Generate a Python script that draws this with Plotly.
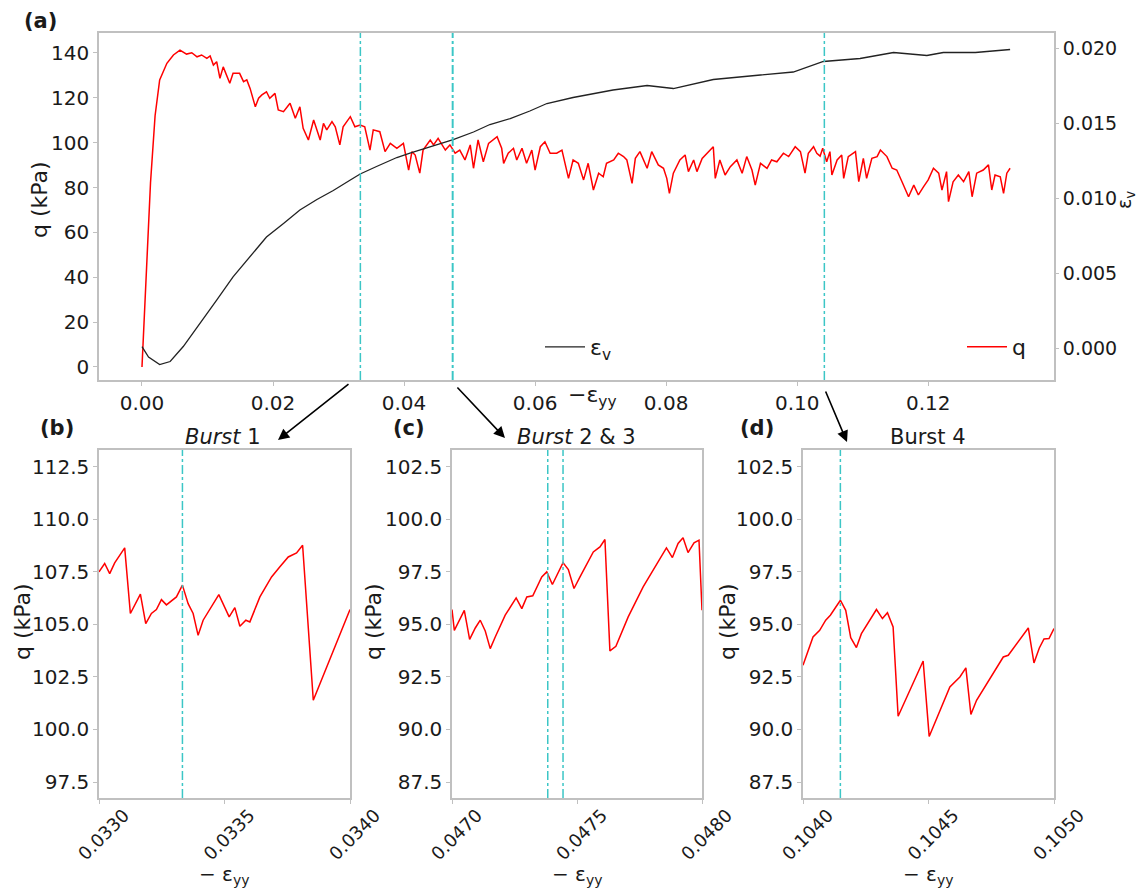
import plotly.graph_objects as go

# ---------------- data ----------------
# main panel (a): q vs -eps_yy
q_strain = [0.0000, 0.0007, 0.0013, 0.0020, 0.0027, 0.0038, 0.0048, 0.0058, 0.0068, 0.0076,
            0.0084, 0.0091, 0.0099, 0.0104, 0.0109, 0.0114, 0.0119, 0.0124, 0.0129, 0.0134,
            0.0139, 0.0149, 0.0155, 0.0160, 0.0165, 0.0173, 0.0178, 0.0183, 0.0190, 0.0195,
            0.0203, 0.0208, 0.0216, 0.0226, 0.0234, 0.0241, 0.0246, 0.0254, 0.0262, 0.0267,
            0.0272, 0.0277, 0.0282, 0.0290, 0.0295, 0.0302, 0.0307, 0.0318, 0.0325, 0.0333,
            0.0340, 0.0348, 0.0353, 0.0363, 0.0371, 0.0379, 0.0389, 0.0399, 0.0407, 0.0412,
            0.0417, 0.0424, 0.0429, 0.0440, 0.0445, 0.0452, 0.0463, 0.0470, 0.0478, 0.0485,
            0.0493, 0.0501, 0.0506, 0.0513, 0.0521, 0.0529, 0.0542, 0.0549, 0.0552, 0.0559,
            0.0567, 0.0572, 0.0580, 0.0587, 0.0595, 0.0600, 0.0608, 0.0615, 0.0623, 0.0633,
            0.0641, 0.0651, 0.0658, 0.0666, 0.0674, 0.0681, 0.0689, 0.0697, 0.0704, 0.0709,
            0.0720, 0.0727, 0.0735, 0.0740, 0.0748, 0.0753, 0.0760, 0.0771, 0.0778, 0.0788,
            0.0796, 0.0801, 0.0805, 0.0811, 0.0821, 0.0829, 0.0834, 0.0842, 0.0847, 0.0855,
            0.0865, 0.0872, 0.0875, 0.0882, 0.0890, 0.0898, 0.0908, 0.0916, 0.0923, 0.0931,
            0.0936, 0.0944, 0.0954, 0.0961, 0.0969, 0.0979, 0.0987, 0.0997, 0.1005, 0.1012,
            0.1017, 0.1025, 0.1030, 0.1035, 0.1039, 0.1045, 0.1050, 0.1053, 0.1061, 0.1068,
            0.1071, 0.1078, 0.1089, 0.1094, 0.1101, 0.1106, 0.1114, 0.1122, 0.1127, 0.1137,
            0.1145, 0.1152, 0.1160, 0.1170, 0.1178, 0.1185, 0.1193, 0.1200, 0.1208, 0.1216,
            0.1221, 0.1228, 0.1231, 0.1238, 0.1246, 0.1254, 0.1262, 0.1267, 0.1274, 0.1284,
            0.1292, 0.1297, 0.1302, 0.1310, 0.1315, 0.1320, 0.1325]
q_values = [0, 44.6, 82, 112, 128, 135.4, 139.1, 141.3, 139.5, 140.1,
            138.3, 139.1, 137.6, 138.7, 134.6, 136.1, 128.7, 133.8, 130.2, 126.5,
            130.9, 130.9, 127.2, 128, 124.2, 116, 119.8, 121.3, 122.7, 119.8,
            122, 114.6, 113.8, 117.6, 110.9, 116, 106.4, 101.2, 110.1, 105.7,
            101.2, 108.6, 105.7, 109.4, 107.1, 99, 107.1, 111.6, 107.1, 107.9,
            107.1, 96.7, 105.7, 104.9, 96, 99.7, 97.5, 99.7, 87.8, 96,
            94.5, 86.4, 96.7, 101.2, 99, 101.9, 96.7, 99, 95.3, 96.7,
            92.3, 99, 88.6, 101.2, 91.5, 99.7, 102.7, 97.5, 90.8, 95.3,
            97.5, 92.3, 97.5, 90.8, 96.7, 87.8, 98.2, 100.4, 95.3, 95.3,
            96.7, 84.1, 92.3, 90.8, 83.4, 90.8, 78.9, 86.4, 84.8, 90.8,
            92.3, 95.3, 93.8, 92.3, 81.9, 93, 96, 88.6, 96, 90.1,
            88.6, 84.1, 77.4, 86.4, 92.3, 94.5, 87.1, 92.3, 87.1, 93,
            96, 98.2, 84.1, 92.3, 85.6, 89.3, 92.3, 86.4, 93.8, 87.8,
            81.1, 90.8, 88.6, 92.3, 91.5, 95.3, 93.8, 98.2, 96, 86.4,
            95.3, 98.2, 95.3, 94, 97.5, 91.5, 96, 85.6, 92.3, 94.5,
            84.1, 93.8, 96, 82.6, 93, 84.1, 93, 93.8, 96.7, 93.8,
            88.6, 87.8, 82.6, 75.9, 81.1, 76.7, 80.4, 83.4, 88.6, 86.4,
            78.9, 87.1, 73.7, 82.6, 85.6, 82.6, 87.1, 75.9, 86.4, 87.8,
            90.1, 78.9, 85.6, 84.8, 77.4, 86.4, 88.6]

# main panel (a): volumetric strain eps_v
ev_strain = [0.0000, 0.0010, 0.0027, 0.0043, 0.0063, 0.0089, 0.0114, 0.0139, 0.0165, 0.0190,
             0.0216, 0.0241, 0.0267, 0.0292, 0.0318, 0.0333, 0.0358, 0.0389, 0.0409, 0.0445,
             0.0475, 0.0506, 0.0531, 0.0562, 0.0592, 0.0618, 0.0658, 0.0719, 0.0771, 0.0811,
             0.0872, 0.0944, 0.0994, 0.1040, 0.1096, 0.1147, 0.1198, 0.1223, 0.1272, 0.1325]
ev_values = [0.0001, -0.0006, -0.0011, -0.0009, 0.0001, 0.00165, 0.0032, 0.00475, 0.0061, 0.0074,
             0.0083, 0.0092, 0.0099, 0.0105, 0.0112, 0.0116, 0.0121, 0.0127, 0.0130, 0.0135,
             0.0139, 0.0144, 0.0149, 0.0153, 0.0158, 0.0163, 0.0167, 0.0172, 0.0175, 0.0173,
             0.0179, 0.0182, 0.0184, 0.0191, 0.0193, 0.0197, 0.0195, 0.0197, 0.0197, 0.0199]

# burst positions (-eps_yy)
bursts_b = [0.0333324]
bursts_c = [0.0473830, 0.0474441]
bursts_d = [0.1041489]

# panel (b): burst 1
b_strain = [0.0330000, 0.0330226, 0.0330426, 0.0330625, 0.0331024, 0.0331250, 0.0331649, 0.0331862,
            0.0332088, 0.0332287, 0.0332487, 0.0332686, 0.0333085, 0.0333324, 0.0333551, 0.0333750,
            0.0333949, 0.0334149, 0.0334774, 0.0335186, 0.0335412, 0.0335612, 0.0335851, 0.0336011,
            0.0336410, 0.0336875, 0.0337207, 0.0337540, 0.0337872, 0.0338112, 0.0338537, 0.0340000]
b_q = [107.5, 107.9, 107.42, 107.93, 108.64, 105.52, 106.44, 105.04,
       105.52, 105.71, 106.18, 105.93, 106.31, 106.87, 105.99, 105.52,
       104.48, 105.2, 106.42, 105.36, 105.80, 104.91, 105.2, 105.12,
       106.31, 107.26, 107.74, 108.21, 108.40, 108.77, 101.39, 105.71]

# panel (c): bursts 2 & 3
c_strain = [0.0470000, 0.0470093, 0.0470492, 0.0470705, 0.0470931, 0.0471130, 0.0471330, 0.0471529,
            0.0471729, 0.0472128, 0.0472566, 0.0472793, 0.0472992, 0.0473231, 0.0473590, 0.0473790,
            0.0474016, 0.0474441, 0.0474654, 0.0474880, 0.0475120, 0.0475652, 0.0475918, 0.0476117,
            0.0476316, 0.0476556, 0.0477048, 0.0477646, 0.0478577, 0.0478816, 0.0479043, 0.0479242,
            0.0479441, 0.0479681, 0.0479880, 0.0480000]
c_q = [95.71, 94.72, 95.67, 94.29, 94.83, 95.20, 94.69, 93.85,
       94.40, 95.44, 96.26, 95.75, 96.31, 96.36, 97.26, 97.5,
       96.90, 97.94, 97.61, 96.71, 97.26, 98.45, 98.69, 99.04,
       93.74, 93.96, 95.36, 96.79, 98.64, 98.18, 98.85, 99.12,
       98.42, 98.88, 99.01, 95.67]

# panel (d): burst 4
d_strain = [0.1040000, 0.1040399, 0.1040665, 0.1040904, 0.1041090, 0.1041489, 0.1041702, 0.1041902,
            0.1042128, 0.1042327, 0.1042926, 0.1043165, 0.1043364, 0.1043590, 0.1043790, 0.1044787,
            0.1045027, 0.1045851, 0.1046250, 0.1046489, 0.1046689, 0.1046915, 0.1047979, 0.1048178,
            0.1048976, 0.1049202, 0.1049415, 0.1049601, 0.1049801, 0.1050000]
d_q = [93.06, 94.40, 94.72, 95.20, 95.44, 96.15, 95.67, 94.37,
       93.90, 94.56, 95.71, 95.28, 95.56, 94.88, 90.63, 93.26,
       89.67, 92.02, 92.50, 92.93, 90.72, 91.39, 93.45, 93.53,
       94.83, 93.17, 93.88, 94.31, 94.33, 94.80]

main_xticks = [0.00, 0.02, 0.04, 0.06, 0.08, 0.10, 0.12]
main_yticks = [0, 20, 40, 60, 80, 100, 120, 140]
ev_ticks = [0.000, 0.005, 0.010, 0.015, 0.020]
b_xticks = [0.0330, 0.0335, 0.0340]
c_xticks = [0.0470, 0.0475, 0.0480]
d_xticks = [0.1040, 0.1045, 0.1050]
b_yticks = [97.5, 100.0, 102.5, 105.0, 107.5, 110.0, 112.5]
cd_yticks = [87.5, 90.0, 92.5, 95.0, 97.5, 100.0, 102.5]

# ---------------- styling ----------------
OFF = 8                      # page body margin
W, H = 1146 - 2 * OFF, 896 - 2 * OFF
FONT = "DejaVu Sans"
RED = "#ff0000"
CYAN = "#3cc6c6"
FRAME = "#c0c0c0"
TXT = "#1a1a1a"


def px(x):
    return (x - OFF) / W


def py(y):
    return 1 - (y - OFF) / H


fig = go.Figure()

# main
fig.add_trace(go.Scatter(x=ev_strain, y=ev_values, mode="lines", name="ε<sub>v</sub>",
                         line=dict(color="#222222", width=1.3), xaxis="x", yaxis="y2",
                         legend="legend"))
fig.add_trace(go.Scatter(x=q_strain, y=q_values, mode="lines", name="q",
                         line=dict(color=RED, width=1.5), xaxis="x", yaxis="y",
                         legend="legend2"))

# subplots
for xs, ys, xa, ya in [(b_strain, b_q, "x3", "y3"), (c_strain, c_q, "x4", "y4"),
                       (d_strain, d_q, "x5", "y5")]:
    fig.add_trace(go.Scatter(x=xs, y=ys, mode="lines", showlegend=False,
                             line=dict(color=RED, width=1.5), xaxis=xa, yaxis=ya))

# vertical burst lines
all_bursts = bursts_b + bursts_c + bursts_d
for b in all_bursts:
    fig.add_shape(type="line", xref="x", yref="y domain", x0=b, x1=b, y0=0, y1=1,
                  line=dict(color=CYAN, width=1.5, dash="dashdot"))
for bl, xr, yr in [(bursts_b, "x3", "y3 domain"), (bursts_c, "x4", "y4 domain"),
                   (bursts_d, "x5", "y5 domain")]:
    for b in bl:
        fig.add_shape(type="line", xref=xr, yref=yr, x0=b, x1=b, y0=0, y1=1,
                      line=dict(color=CYAN, width=1.5, dash="dashdot"))

tickfont = dict(family=FONT, size=20, color=TXT)
axis_common = dict(showline=True, linecolor=FRAME, linewidth=1.5, mirror=True,
                   ticks="outside", ticklen=4, tickcolor=FRAME, showgrid=False,
                   zeroline=False, automargin=False)
sub_x_common = dict(tickformat=".4f", tickangle=-45, ticklabelshift=25, ticklabelstandoff=-6,
                    tickfont=dict(family=FONT, size=18, color=TXT))

main_x = [px(99), px(1054)]
main_y = [py(380), py(33)]
sub_y = [py(798), py(450)]

fig.update_layout(
    width=W, height=H,
    margin=dict(l=0, r=0, t=0, b=0),
    paper_bgcolor="white", plot_bgcolor="white",
    font=dict(family=FONT, color=TXT),
    xaxis=dict(domain=main_x, anchor="y", range=[-0.00656, 0.1392],
               tickvals=main_xticks, tickformat=".2f", tickfont=tickfont, **axis_common),
    yaxis=dict(domain=main_y, anchor="x", range=[-5.8, 148.9],
               tickvals=main_yticks, tickfont=tickfont, **axis_common),
    yaxis2=dict(overlaying="y", side="right", anchor="x", range=[-0.00213, 0.021],
                tickvals=ev_ticks, tickformat=".3f", showline=False, ticks="outside",
                ticklen=4, tickcolor=FRAME, showgrid=False, zeroline=False,
                tickfont=dict(family=FONT, size=19, color=TXT), automargin=False),
    xaxis3=dict(domain=[px(99), px(350)], anchor="y3", range=[0.0330, 0.0340],
                tickvals=b_xticks, **sub_x_common, **axis_common),
    yaxis3=dict(domain=sub_y, anchor="x3", range=[96.74, 113.3],
                tickvals=b_yticks, tickformat=".1f", tickfont=tickfont, **axis_common),
    xaxis4=dict(domain=[px(452), px(702)], anchor="y4", range=[0.0470, 0.0480],
                tickvals=c_xticks, **sub_x_common, **axis_common),
    yaxis4=dict(domain=sub_y, anchor="x4", range=[86.74, 103.3],
                tickvals=cd_yticks, tickformat=".1f", tickfont=tickfont, **axis_common),
    xaxis5=dict(domain=[px(803), px(1054)], anchor="y5", range=[0.1040, 0.1050],
                tickvals=d_xticks, **sub_x_common, **axis_common),
    yaxis5=dict(domain=sub_y, anchor="x5", range=[86.74, 103.3],
                tickvals=cd_yticks, tickformat=".1f", tickfont=tickfont, **axis_common),
    legend=dict(x=px(540), y=py(347), xanchor="left", yanchor="middle",
                bgcolor="rgba(0,0,0,0)", font=dict(family=FONT, size=22, color=TXT),
                itemwidth=40),
    legend2=dict(x=px(962), y=py(347), xanchor="left", yanchor="middle",
                 bgcolor="rgba(0,0,0,0)", font=dict(family=FONT, size=22, color=TXT),
                 itemwidth=40),
)

ann = []


def text(x, y, s, size=20, bold=False, angle=0, xanchor="center"):
    ann.append(dict(x=px(x), y=py(y), xref="paper", yref="paper", text=("<b>%s</b>" % s) if bold else s,
                    showarrow=False, textangle=angle, xanchor=xanchor, yanchor="middle",
                    font=dict(family=FONT, size=size, color=TXT)))


# panel labels
text(22, 21, "(a)", 21, bold=True, xanchor="left")
text(38, 428, "(b)", 21, bold=True, xanchor="left")
text(391, 428, "(c)", 21, bold=True, xanchor="left")
text(738, 428, "(d)", 21, bold=True, xanchor="left")
# subplot titles
text(223, 437, "<i>Burst</i> 1", 21)
text(576, 437, "<i>Burst</i> 2 &amp; 3", 21)
text(928, 437, "Burst 4", 21)
# axis titles
text(40, 200, "q (kPa)", 22, angle=-90)
text(1126, 200, "ε<sub>v</sub>", 19, angle=-90)
text(592, 396, "−ε<sub>yy</sub>", 22)
text(22, 622, "q (kPa)", 22, angle=-90)
text(373, 622, "q (kPa)", 22, angle=-90)
text(727, 622, "q (kPa)", 22, angle=-90)
for cx in [224, 577, 928]:
    text(cx, 875, "− ε<sub>yy</sub>", 20)

# arrows
for (tx, ty, hx, hy) in [(350, 383, 278, 440), (456, 386, 505, 438), (825, 390, 847, 442)]:
    ann.append(dict(x=px(hx), y=py(hy), xref="paper", yref="paper", ax=tx - hx, ay=ty - hy,
                    axref="pixel", ayref="pixel", text="", showarrow=True, arrowhead=2,
                    arrowsize=1.4, arrowwidth=1.6, arrowcolor="black"))

fig.update_layout(annotations=ann)

fig.write_html("out.html")
